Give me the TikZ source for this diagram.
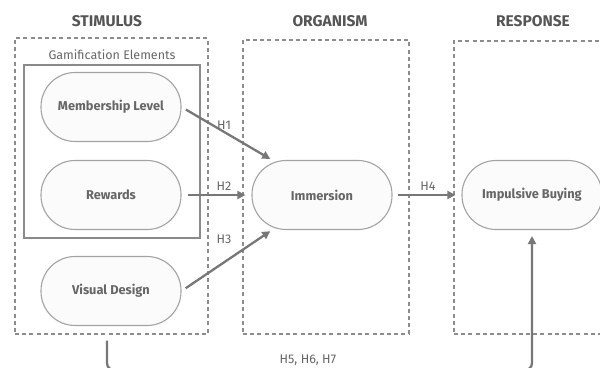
\documentclass[tikz,border=0pt]{standalone}
\usepackage{fontspec}
\setmainfont{Fira Sans}
\usetikzlibrary{arrows.meta}
\definecolor{titlec}{HTML}{555555}
\definecolor{textc}{HTML}{666666}
\definecolor{arrc}{HTML}{777777}
\definecolor{dashc}{HTML}{8C8C8C}
\definecolor{borderc}{HTML}{A3A3A3}
\definecolor{groupc}{HTML}{8A8A8A}
\tikzset{
  title/.style={text=titlec, font=\fontsize{15.5}{17}\selectfont\bfseries},
  pill/.style={draw=borderc, line width=1.1pt, fill=gray!3, rounded corners=34pt,
     minimum width=140pt, minimum height=69pt, text=textc,
     font=\fontsize{12.8}{14}\selectfont\bfseries, inner sep=0pt},
  zone/.style={draw=dashc, line width=1.1pt, dash pattern=on 4pt off 3.2pt, inner sep=0pt},
  group/.style={draw=groupc, line width=1.1pt, inner sep=0pt},
  arr/.style={draw=arrc, line width=2.3pt, -{Triangle[length=8pt,width=8pt]}},
  hlab/.style={text=textc, font=\fontsize{12.5}{14}\selectfont},
}
\begin{document}
\begin{tikzpicture}[x=1pt,y=-1pt]
\useasboundingbox (0,0) rectangle (600,367);
% titles
\node[title] (tS) at (107,21) {STIMULUS};
\node[title] (tO) at (330,21) {ORGANISM};
\node[title] (tR) at (533,21) {RESPONSE};
% zones
\node[zone, minimum width=193pt, minimum height=296pt] (stim) at (111.5,186) {};
\node[zone, minimum width=166pt, minimum height=294pt] (org) at (326,187) {};
\node[zone, minimum width=160pt, minimum height=293pt] (resp) at (534,187.5) {};
% gamification group
\node[group, minimum width=176pt, minimum height=173pt] (gam) at (112,151.5) {};
\node[text=textc, font=\fontsize{12.5}{14}\selectfont] (gamlab) at (112,55) {Gamification Elements};
% pills
\node[pill] (ml) at (111,107) {Membership Level};
\node[pill] (rw) at (111,195) {Rewards};
\node[pill] (vd) at (111,291) {Visual Design};
\node[pill] (im) at (322,195) {Immersion};
\node[pill] (ib) at (532,195) {Impulsive Buying};
% arrows
\draw[arr, shorten <=5pt, shorten >=2pt] (ml.east) -- (im.145);
\draw[arr, shorten <=6pt, shorten >=6pt] (rw.east) -- (im.west);
\draw[arr, shorten <=5pt, shorten >=2pt] (vd.east) -- (im.-145);
\draw[arr, shorten <=5pt, shorten >=6pt] (im.east) -- (ib.west);
\draw[arr, rounded corners=7pt, shorten >=6pt] ([xshift=-4.5pt,yshift=-6pt]stim.south) -- ++(0,29.5) -| (ib.south);
% labels
\node[hlab] (h1) at (224,125) {H1};
\node[hlab] (h2) at (224,186) {H2};
\node[hlab] (h3) at (224,239) {H3};
\node[hlab] (h4) at (428,186) {H4};
\node[hlab] (h567) at (308,360) {H5, H6, H7};
\end{tikzpicture}
\end{document}
